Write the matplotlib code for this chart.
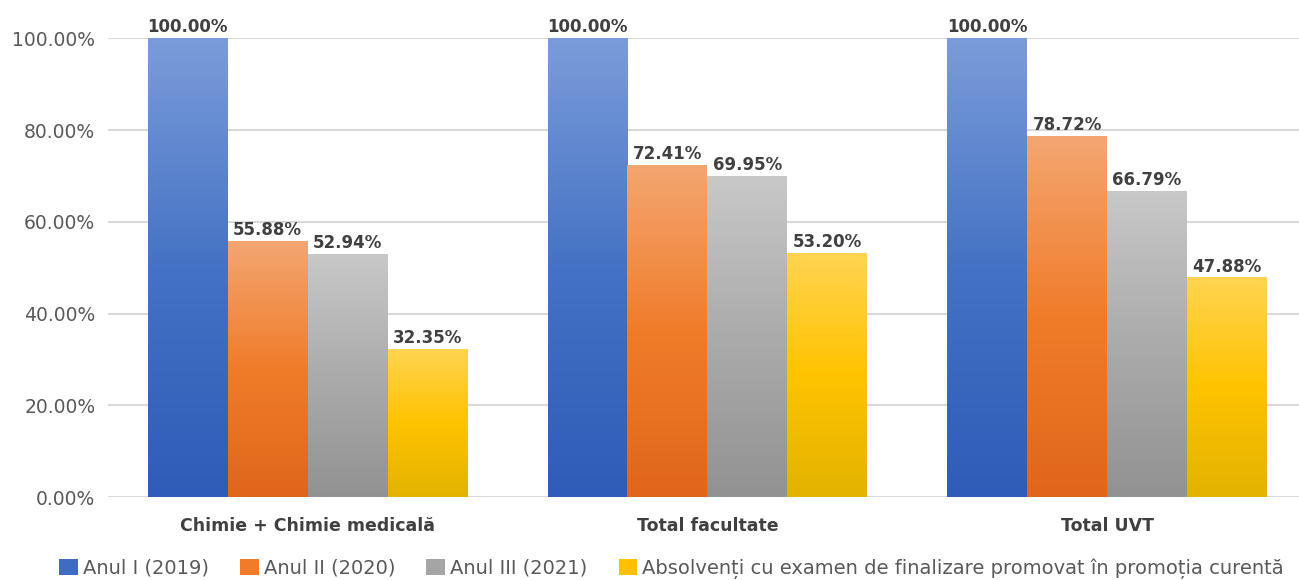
import matplotlib
matplotlib.use("Agg")
import matplotlib.pyplot as plt
import numpy as np
from matplotlib.colors import LinearSegmentedColormap
from matplotlib.patches import Patch

categories = ["Chimie + Chimie medicală", "Total facultate", "Total UVT"]
series_names = [
    "Anul I (2019)",
    "Anul II (2020)",
    "Anul III (2021)",
    "Absolvenți cu examen de finalizare promovat în promoția curentă",
]
anul_1 = [100.00, 100.00, 100.00]
anul_2 = [55.88, 72.41, 78.72]
anul_3 = [52.94, 69.95, 66.79]
absolventi = [32.35, 53.20, 47.88]

# gradient stops (top, middle, bottom) per series
gradients = [
    ("#7B9CDA", "#4472C4", "#2E5CB8"),
    ("#F4A672", "#F07C2A", "#E0661A"),
    ("#C8C8C8", "#ABABAB", "#929292"),
    ("#FFD452", "#FFC300", "#E3B300"),
]
solid = ["#3F6BC4", "#F07C2A", "#A5A5A5", "#FFC000"]

plt.rcParams["font.family"] = ["DejaVu Sans"]

fig = plt.figure(figsize=(12.99, 5.8), dpi=100)
ax = fig.add_axes([0.083, 0.143, 0.917, 0.791])

x = np.arange(len(categories))
width = 0.2
all_series = [anul_1, anul_2, anul_3, absolventi]
grad = np.linspace(1, 0, 256).reshape(-1, 1)

for i, (values, stops) in enumerate(zip(all_series, gradients)):
    cmap = LinearSegmentedColormap.from_list(f"g{i}", list(stops[::-1]))
    offsets = x + (i - 1.5) * width
    bars = ax.bar(offsets, values, width, color="none", edgecolor="none", zorder=2)
    for bar, v in zip(bars, values):
        bx, bw, bh = bar.get_x(), bar.get_width(), bar.get_height()
        img = ax.imshow(
            grad,
            cmap=cmap,
            extent=(bx, bx + bw, 0, bh),
            aspect="auto",
            zorder=2,
            interpolation="bicubic",
        )
        img.set_clip_path(bar)
        ax.text(
            bx + bw / 2,
            bh + 0.4,
            f"{v:.2f}%",
            ha="center",
            va="bottom",
            fontsize=12,
            fontweight="bold",
            color="#404040",
            clip_on=False,
            zorder=3,
        )

ax.set_xlim(-0.5, 2.48)
ax.set_ylim(0, 100)
ax.set_yticks(np.arange(0, 101, 20))
ax.set_yticklabels([f"{t:.2f}%" for t in np.arange(0, 101, 20)], fontsize=13.5, color="#595959")
ax.set_xticks(x)
ax.set_xticklabels(categories, fontsize=12.5, fontweight="bold", color="#404040")
ax.tick_params(axis="both", length=0)
ax.tick_params(axis="y", pad=9)
ax.tick_params(axis="x", pad=14)
ax.grid(axis="y", color="#D9D9D9", linewidth=1.5, zorder=0)
ax.set_axisbelow(True)
for spine in ax.spines.values():
    spine.set_visible(False)

handles = [Patch(facecolor=c, edgecolor="none") for c in solid]
fig.legend(
    handles,
    series_names,
    loc="lower center",
    bbox_to_anchor=(0.517, -0.028),
    ncol=4,
    frameon=False,
    fontsize=14,
    handlelength=0.95,
    handleheight=0.95,
    handletextpad=0.27,
    columnspacing=1.6,
    labelcolor="#595959",
)

fig.savefig("out.png", dpi=100, facecolor="white")
